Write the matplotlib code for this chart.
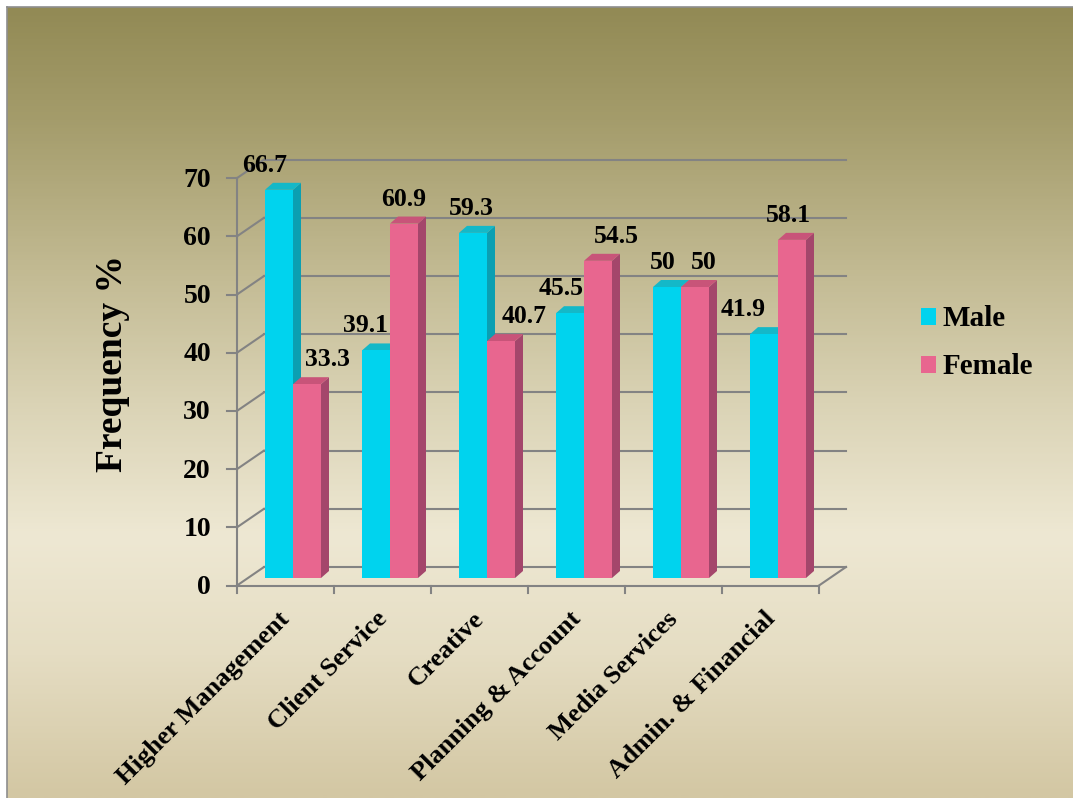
import numpy as np
import matplotlib
matplotlib.use('Agg')
import matplotlib.pyplot as plt
from matplotlib.colors import LinearSegmentedColormap
from matplotlib.patches import Polygon, Patch
from matplotlib.lines import Line2D

plt.rcParams['font.family'] = ['Liberation Serif', 'DejaVu Serif']
plt.rcParams['font.weight'] = 'bold'

# data
categories = ['Higher Management', 'Client Service', 'Creative',
              'Planning & Account', 'Media Services', 'Admin. & Financial']
male = [66.7, 39.1, 59.3, 45.5, 50, 41.9]
female = [33.3, 60.9, 40.7, 54.5, 50, 58.1]
yticks = [0, 10, 20, 30, 40, 50, 60, 70]

# label nudges (pixels) so the numbers sit like the original
male_dx = [-14, -11, -2, -9, -4, -21]
female_dx = [20, 0, 23, 18, 9, -4]

W, H = 1073, 798
fig = plt.figure(figsize=(W / 100, H / 100), dpi=100, facecolor='white')

# gradient background
bg = fig.add_axes([7 / W, 0, 1 - 7 / W, 1 - 7 / H])
cmap = LinearSegmentedColormap.from_list('bg', [
    (0.0, '#928A55'), (0.14, '#A49C6B'), (0.345, '#C4BC95'),
    (0.5, '#DAD3B5'), (0.67, '#EEE8D3'), (0.82, '#E5DDC3'), (1.0, '#D3C7A3')])
bg.imshow(np.linspace(0, 1, 400).reshape(-1, 1), cmap=cmap, aspect='auto',
          extent=[0, 1, 0, 1])
bg.set_axis_off()
fig.add_artist(Line2D([6.5 / W, 6.5 / W], [0, 1 - 6.5 / H], color='#8E8E8E', lw=1.2))
fig.add_artist(Line2D([6.5 / W, 1], [1 - 6.5 / H, 1 - 6.5 / H], color='#8E8E8E', lw=1.2))

# plot plane = plane in which the bar fronts stand
x0_px, y0_px, grp_px, unit_px = 247.8, 578, 97.0, 5.82
ax = fig.add_axes([x0_px / W, 1 - y0_px / H, 6 * grp_px / W, 70 * unit_px / H])
ax.set_xlim(0, 6)
ax.set_ylim(0, 70)
ax.set_axis_off()
ax.patch.set_alpha(0)

def px(dx, dy):
    return dx / grp_px, dy / unit_px

fx, fy = px(-10.8, -7.5)   # front plane
bx, by = px(16.2, 11.0)    # back wall
dx, dy = px(8.0, 7.0)      # bar depth

grid_c = '#838383'
lw = 1.5
for v in yticks:
    ax.plot([bx, 6 + bx], [v + by, v + by], color=grid_c, lw=lw, zorder=1, clip_on=False)
    ax.plot([fx, bx], [v + fy, v + by], color=grid_c, lw=lw, zorder=1, clip_on=False)
    ax.plot([fx, fx - 10 / grp_px], [v + fy, v + fy], color=grid_c, lw=lw, zorder=1, clip_on=False)
    ax.text(fx - 26 / grp_px, v + fy - 2 / unit_px, str(v), ha='right', va='center',
            fontsize=20, fontweight='bold', zorder=5)
ax.plot([fx, fx], [fy, 70 + fy], color=grid_c, lw=lw, zorder=1, clip_on=False)
ax.plot([fx, 6 + fx], [fy, fy], color=grid_c, lw=lw, zorder=6, clip_on=False)
ax.plot([6 + fx, 6 + bx], [fy, by], color=grid_c, lw=lw, zorder=6, clip_on=False)
for k in range(7):
    ax.plot([k + fx, k + fx], [fy, fy - 7 / unit_px], color=grid_c, lw=lw, zorder=6, clip_on=False)

x = np.arange(len(categories))
bw = 28 / grp_px
m_left = x + 17.2 / grp_px
f_left = m_left + bw

series = [
    (male, m_left, '#00D3EE', '#0B9FB2', '#14B8C8', male_dx),
    (female, f_left, '#E8668F', '#A4466B', '#C85479', female_dx),
]

z = 2
for i in range(len(categories)):
    for vals, lefts, c_front, c_side, c_top, _ in series:
        h = vals[i]
        l, r = lefts[i], lefts[i] + bw
        ax.add_patch(Polygon([(r, 0), (r + dx, dy), (r + dx, h + dy), (r, h)],
                             closed=True, facecolor=c_side, edgecolor='none', zorder=z))
        ax.add_patch(Polygon([(l, h), (r, h), (r + dx, h + dy), (l + dx, h + dy)],
                             closed=True, facecolor=c_top, edgecolor='none', zorder=z))
        ax.bar(l, h, width=bw, align='edge', color=c_front, edgecolor='none', zorder=z)
        z += 0.01

for vals, lefts, _, _, _, nudges in series:
    for i, h in enumerate(vals):
        lab = f'{h:g}'
        ax.annotate(lab, (lefts[i] + bw / 2, h), xytext=(nudges[i], 18),
                    textcoords='offset pixels', ha='center', va='baseline',
                    fontsize=18.5, fontweight='bold', zorder=10, annotation_clip=False)

for i, name in enumerate(categories):
    ax.annotate(name, (i + 0.5 + fx, fy), xytext=(9, -22), textcoords='offset pixels',
                rotation=45, ha='right', va='top', fontsize=19, fontweight='bold',
                annotation_clip=False)

fig.text(112 / W, 1 - 364 / H, 'Frequency %', rotation=90, ha='center', va='center',
         fontsize=27, fontweight='bold')

handles = [Patch(facecolor='#00D3EE', edgecolor='none'),
           Patch(facecolor='#E8668F', edgecolor='none')]
fig.legend(handles, ['Male', 'Female'], loc='center left',
           bbox_to_anchor=(921 / W, 1 - 343 / H), frameon=False,
           prop={'family': 'Liberation Serif', 'weight': 'bold', 'size': 21},
           handlelength=0.52, handleheight=0.52, handletextpad=0.22,
           labelspacing=0.72, borderpad=0, borderaxespad=0)

fig.savefig('out.png', dpi=100)
